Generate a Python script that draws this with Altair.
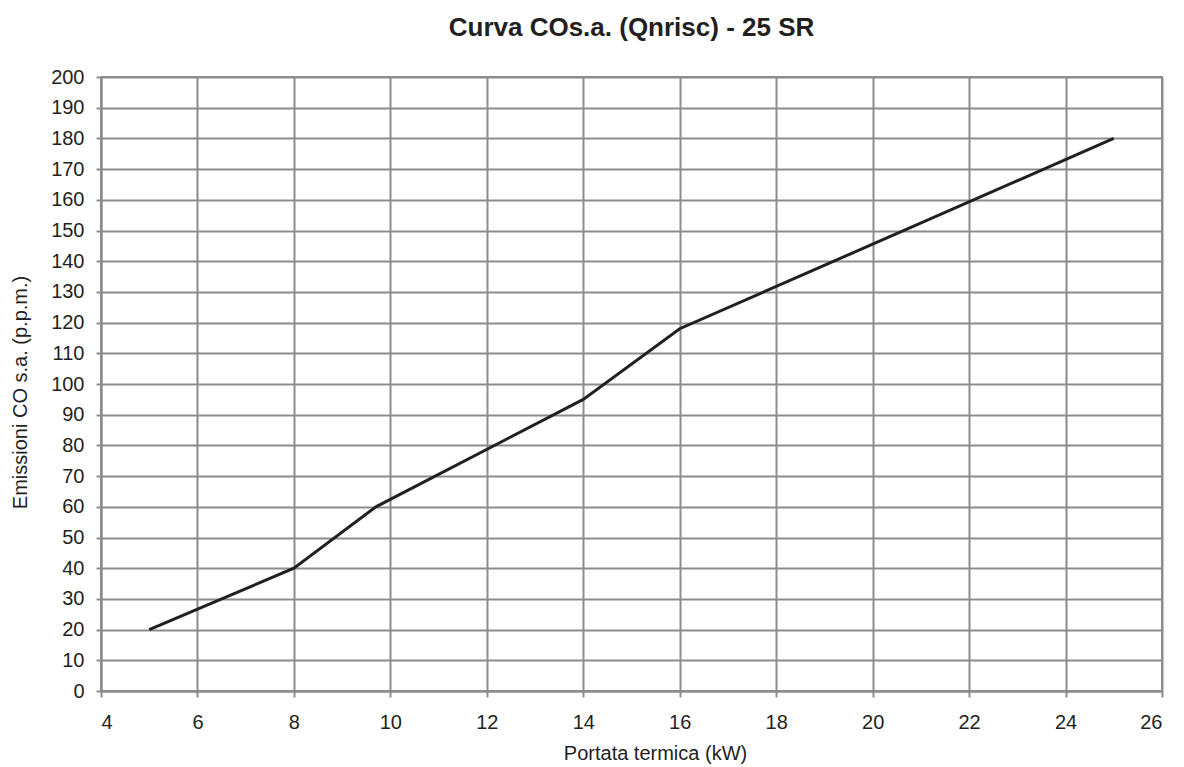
import altair as alt
import pandas as pd

portata = [5, 8, 9.7, 14, 16, 25]
emissioni = [20, 40, 60, 95, 118, 180]

df = pd.DataFrame({"x": portata, "y": emissioni})

grid = "#8c8c8c"
font = "Liberation Sans"

chart = alt.Chart(df).mark_line(color="#231f20", strokeWidth=3).encode(
    x=alt.X("x:Q", scale=alt.Scale(domain=[4, 26], nice=False),
            axis=alt.Axis(title="Portata termica (kW)", values=list(range(4, 27, 2)),
                          tickSize=6, tickWidth=2, tickColor=grid, labelPadding=15,
                          titlePadding=11, titleX=554)),
    y=alt.Y("y:Q", scale=alt.Scale(domain=[0, 200], nice=False),
            axis=alt.Axis(title="Emissioni CO s.a. (p.p.m.)", values=list(range(0, 201, 10)),
                          tickSize=5, tickWidth=2, tickColor=grid, labelPadding=12,
                          titlePadding=20, titleY=315)),
).properties(
    width=1061, height=614,
    title=alt.TitleParams("Curva COs.a. (Qnrisc) - 25 SR", fontSize=26, font=font,
                          fontWeight="bold", color="#231f20", offset=26),
    autosize=alt.AutoSizeParams(type="none"),
    padding={"left": 93, "top": 69, "right": 14, "bottom": 74},
).configure_axis(
    grid=True, gridColor=grid, gridWidth=2, gridOpacity=1,
    domainColor=grid, domainWidth=2,
    labelFont=font, labelFontSize=20, labelColor="#231f20",
    titleFont=font, titleFontSize=20, titleFontWeight="normal", titleColor="#231f20",
).configure_view(stroke=grid, strokeWidth=2)

chart.save("out.html", embed_options={"renderer": "svg", "actions": False})
